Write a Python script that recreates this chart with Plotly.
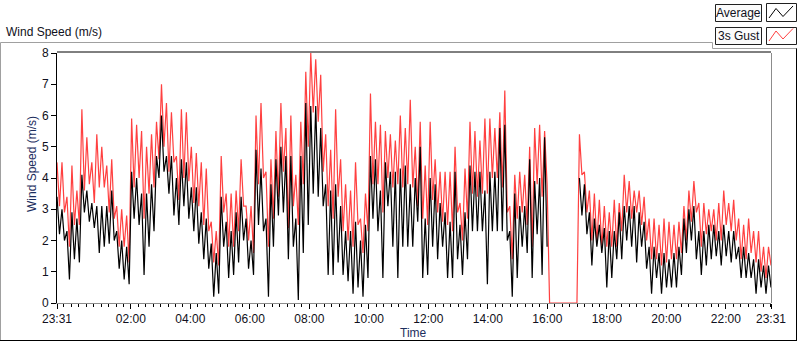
import plotly.graph_objects as go
import pandas as pd

# ---- data: per 10-minute bin (high / low excursions) ----
gust_hi = [4.5,4.5,3.4,4.4,3.6,6.2,5.3,4.5,5.4,5.0,4.4,4.6,3.1,3.0,2.8,5.9,5.7,5.5,5.0,5.4,5.8,7.0,6.4,6.1,
           4.7,6.2,6.1,5.0,4.8,4.5,4.3,2.6,2.3,4.7,3.5,3.5,3.6,4.6,3.1,3.1,6.0,6.4,4.2,4.6,5.5,6.4,5.6,6.0,
           4.1,5.8,7.4,8.0,7.8,7.3,5.4,4.9,6.2,4.6,3.8,3.6,4.5,2.7,3.5,6.7,5.8,5.7,5.5,5.4,5.2,6.0,5.6,6.5,
           5.0,5.8,4.4,5.8,4.6,4.2,4.2,4.2,5.0,3.2,4.3,5.8,5.5,5.2,5.9,5.9,5.6,6.1,6.8,3.1,4.1,4.2,4.1,5.0,
           5.6,5.7,5.5,0,0,0,0,0,0,5.4,4.2,3.6,3.5,3.3,3.1,2.9,3.3,3.2,4.1,3.9,3.6,3.6,3.4,2.7,
           2.7,2.5,2.7,2.6,2.5,2.6,3.1,3.6,3.9,3.2,3.2,3.0,3.0,3.2,3.6,3.2,3.3,2.7,2.5,2.7,2.3,2.3,1.8,1.8]
gust_lo = [3.1,2.9,1.8,2.5,2.5,3.6,3.8,3.2,3.7,3.7,2.9,2.7,1.8,1.8,1.3,3.7,4.0,2.7,3.5,3.7,4.6,5.0,4.2,4.5,
           3.3,4.0,3.9,3.2,3.1,2.5,2.3,1.3,1.2,2.9,1.8,1.8,2.3,3.1,2.0,1.6,3.8,4.0,1.8,2.7,3.4,4.2,2.4,3.1,
           2.5,3.8,5.0,6.1,5.8,4.2,3.1,2.7,3.4,2.3,2.0,1.8,2.5,1.6,2.3,3.8,3.8,2.9,4.0,3.7,3.8,3.7,3.8,3.7,
           3.1,2.7,2.5,3.3,2.9,2.6,2.5,2.3,2.9,2.0,2.7,3.5,3.4,3.5,3.5,4.0,4.0,3.7,2.9,1.4,2.7,2.9,2.5,1.8,
           3.8,3.4,3.8,0,0,0,0,0,0,4.1,2.9,2.0,1.9,1.8,1.8,1.8,1.8,2.3,2.9,2.7,2.9,2.5,2.0,1.4,
           1.4,1.2,1.3,1.4,1.4,1.6,2.0,2.6,2.9,1.8,2.2,2.3,2.0,2.0,2.5,2.3,2.0,1.4,1.4,1.6,1.3,1.0,0.8,1.2]
avg_hi = [3.4,3.0,2.3,2.9,2.7,4.1,3.6,3.2,3.1,3.1,3.1,3.6,2.3,2.0,1.8,4.2,4.0,3.5,3.5,3.8,4.7,6.0,4.7,4.7,
          4.0,4.6,4.5,3.7,3.7,2.9,2.7,1.9,1.6,3.4,2.6,2.3,2.9,3.4,2.7,2.0,4.9,4.3,2.7,3.8,4.6,5.0,4.7,4.7,
          2.7,4.7,6.4,6.3,6.3,5.6,3.8,3.6,3.8,3.1,2.3,2.3,2.6,2.0,2.5,4.7,4.6,3.6,4.5,4.2,4.2,4.3,4.4,3.8,
          4.0,5.0,2.7,4.0,3.8,3.2,2.9,2.6,4.2,2.5,2.9,4.4,4.2,4.2,3.6,4.2,4.2,5.6,5.7,2.3,3.5,3.1,3.1,4.6,
          3.9,4.0,5.3,None,None,None,None,None,None,4.0,3.8,2.9,2.7,2.5,2.4,2.3,2.3,2.9,3.1,3.1,3.1,2.9,2.6,1.8,
          1.8,1.6,1.6,1.4,1.6,1.8,2.7,3.0,3.1,2.3,2.3,2.5,2.5,2.3,2.5,2.3,2.3,1.8,1.8,1.6,1.4,1.4,1.2,1.2]
avg_lo = [2.2,2.0,0.75,1.4,1.3,2.9,2.6,2.4,1.6,1.8,1.9,2.0,1.1,0.75,0.6,2.7,2.5,0.9,1.8,2.3,4.0,4.2,3.5,2.8,
          2.5,3.1,2.7,2.3,1.9,1.4,1.1,0.2,0.3,1.8,0.8,0.9,1.3,2.0,1.1,0.9,2.5,2.3,0.2,1.8,2.8,2.9,1.4,1.8,
          0.1,1.6,2.5,3.5,3.4,3.1,0.9,0.9,1.3,0.9,0.7,0.3,0.5,0.2,0.8,2.7,2.3,0.8,3.1,1.8,0.8,1.8,1.8,1.8,
          2.6,0.8,0.9,1.8,1.4,1.8,0.8,0.8,1.4,0.9,1.4,2.3,2.3,2.3,0.6,2.3,2.3,2.3,2.0,0.2,0.8,1.8,1.6,0.8,
          2.2,0.9,1.8,None,None,None,None,None,None,2.8,2.2,1.2,1.8,1.6,0.5,0.8,1.4,1.4,2.0,1.8,1.3,1.8,1.1,0.3,
          0.8,0.3,0.5,0.5,0.5,0.9,1.6,2.0,1.4,0.9,1.2,1.4,1.5,1.2,1.5,1.3,1.4,0.8,0.8,0.8,0.3,0.5,0.3,0.5]

start_time = "2021-03-01 23:31"
end_time = "2021-03-02 23:31"
tick_times = ["2021-03-01 23:31", "2021-03-02 02:00", "2021-03-02 04:00", "2021-03-02 06:00",
              "2021-03-02 08:00", "2021-03-02 10:00", "2021-03-02 12:00", "2021-03-02 14:00",
              "2021-03-02 16:00", "2021-03-02 18:00", "2021-03-02 20:00", "2021-03-02 22:00",
              "2021-03-02 23:31"]
tick_labels = ["23:31", "02:00", "04:00", "06:00", "08:00", "10:00", "12:00", "14:00",
               "16:00", "18:00", "20:00", "22:00", "23:31"]
y_ticks = [0, 1, 2, 3, 4, 5, 6, 7, 8]

# ---- build series: each bin contributes its high then its low ----
def interleave(hi, lo):
    out = []
    for h, l in zip(hi, lo):
        out += [h, l]
    return out

gust = interleave(gust_hi, gust_lo)
avg = interleave(avg_hi, avg_lo)
t = pd.date_range(start_time, end_time, periods=len(gust))

fig = go.Figure()
fig.add_trace(go.Scatter(x=t, y=gust, mode="lines", line=dict(color="#FF4040", width=1.2),
                         name="3s Gust", connectgaps=False))
fig.add_trace(go.Scatter(x=t, y=avg, mode="lines", line=dict(color="#000000", width=1.2),
                         name="Average", connectgaps=False))

W, H = 800, 342
L, R, T, B = 57, 771, 53, 303
def px(x):
    return (x - L) / (R - L)
def py(y):
    return (B - y) / (B - T)

FONT = "Liberation Sans"
TXT = "#101020"
AX = "#1c2e5e"

shapes = []
def line(x0, y0, x1, y1, color, w=1):
    shapes.append(dict(type="line", xref="paper", yref="paper", x0=px(x0), y0=py(y0),
                       x1=px(x1), y1=py(y1), line=dict(color=color, width=w), layer="above"))
def rect(x0, y0, x1, y1, color, fill):
    shapes.append(dict(type="rect", xref="paper", yref="paper", x0=px(x0), y0=py(y0),
                       x1=px(x1), y1=py(y1), line=dict(color=color, width=1), fillcolor=fill,
                       layer="above"))

# plot frame: top black, right grey
line(L, T - 1, R, T - 1, "#000000")
line(R + 0.5, T, R + 0.5, B, "#8c8c8c")
# outer frame
line(0.5, 42.5, 712.5, 42.5, "#a0a0a0")
line(712.5, 42.5, 712.5, 48.5, "#a0a0a0")
line(712.5, 48.5, 797, 48.5, "#a0a0a0")
line(0.5, 42.5, 0.5, 341, "#a0a0a0")
line(0, 340.5, 797, 340.5, "#000000")
line(796.5, 48.5, 796.5, 341, "#000000")
# legend boxes
rect(715.5, 4.5, 761.5, 21.5, "#202020", "#fbfbfb")
rect(766.5, 3.5, 796.5, 21.5, "#202020", "#ffffff")
rect(715.5, 27.5, 761.5, 44.5, "#202020", "#fbfbfb")
rect(766.5, 27.5, 796.5, 44.5, "#202020", "#ffffff")

def zig(points, color):
    d = "M " + " L ".join(f"{px(a)},{py(b)}" for a, b in points)
    shapes.append(dict(type="path", xref="paper", yref="paper", path=d,
                       line=dict(color=color, width=1), layer="above"))
zig([(769, 18), (776, 8.5), (783, 16.5), (793, 6)], "#000000")
zig([(769, 41), (776, 31), (783, 39), (793, 28.5)], "#FF4040")

annotations = [
    dict(text="Wind Speed (m/s)", x=px(4), y=py(32), xref="paper", yref="paper",
         xanchor="left", yanchor="middle", showarrow=False, font=dict(family=FONT, size=12, color=TXT)),
    dict(text="Wind Speed (m/s)", x=px(32), y=py(164), xref="paper", yref="paper", textangle=-90,
         xanchor="center", yanchor="middle", showarrow=False, font=dict(family=FONT, size=12, color=AX)),
    dict(text="Time", x=px(413), y=py(333), xref="paper", yref="paper",
         xanchor="center", yanchor="middle", showarrow=False, font=dict(family=FONT, size=12, color=AX)),
    dict(text="Average", x=px(738.5), y=py(13), xref="paper", yref="paper",
         xanchor="center", yanchor="middle", showarrow=False, font=dict(family=FONT, size=12, color=TXT)),
    dict(text="3s Gust", x=px(738.5), y=py(36), xref="paper", yref="paper",
         xanchor="center", yanchor="middle", showarrow=False, font=dict(family=FONT, size=12, color=TXT)),
]

fig.update_layout(
    width=W, height=H, margin=dict(l=L, r=W - R, t=T, b=H - B),
    paper_bgcolor="white", plot_bgcolor="white", showlegend=False,
    font=dict(family=FONT, size=12, color=TXT),
    shapes=shapes, annotations=annotations,
    xaxis=dict(type="date", range=[start_time, end_time], tickmode="array",
               tickvals=tick_times, ticktext=tick_labels, ticks="outside", ticklen=5,
               tickcolor="#000000", showgrid=False, zeroline=False, showline=True,
               linecolor="#8c8c8c", linewidth=1,
               minor=dict(ticks="outside", ticklen=3, tickcolor="#000000",
                          tick0="2021-03-01 23:45", dtick=900000, showgrid=False),
               tickfont=dict(family=FONT, size=12, color=TXT)),
    yaxis=dict(range=[0, 8], tickmode="array", tickvals=y_ticks, ticks="outside", ticklen=5,
               tickcolor="#000000", showgrid=False, zeroline=False, showline=True,
               linecolor="#000000", linewidth=1,
               tickfont=dict(family=FONT, size=12, color=TXT)),
)

fig.write_html("out.html", config={"displayModeBar": False},
               post_script="document.body.style.margin='0';document.body.style.overflow='hidden';")
